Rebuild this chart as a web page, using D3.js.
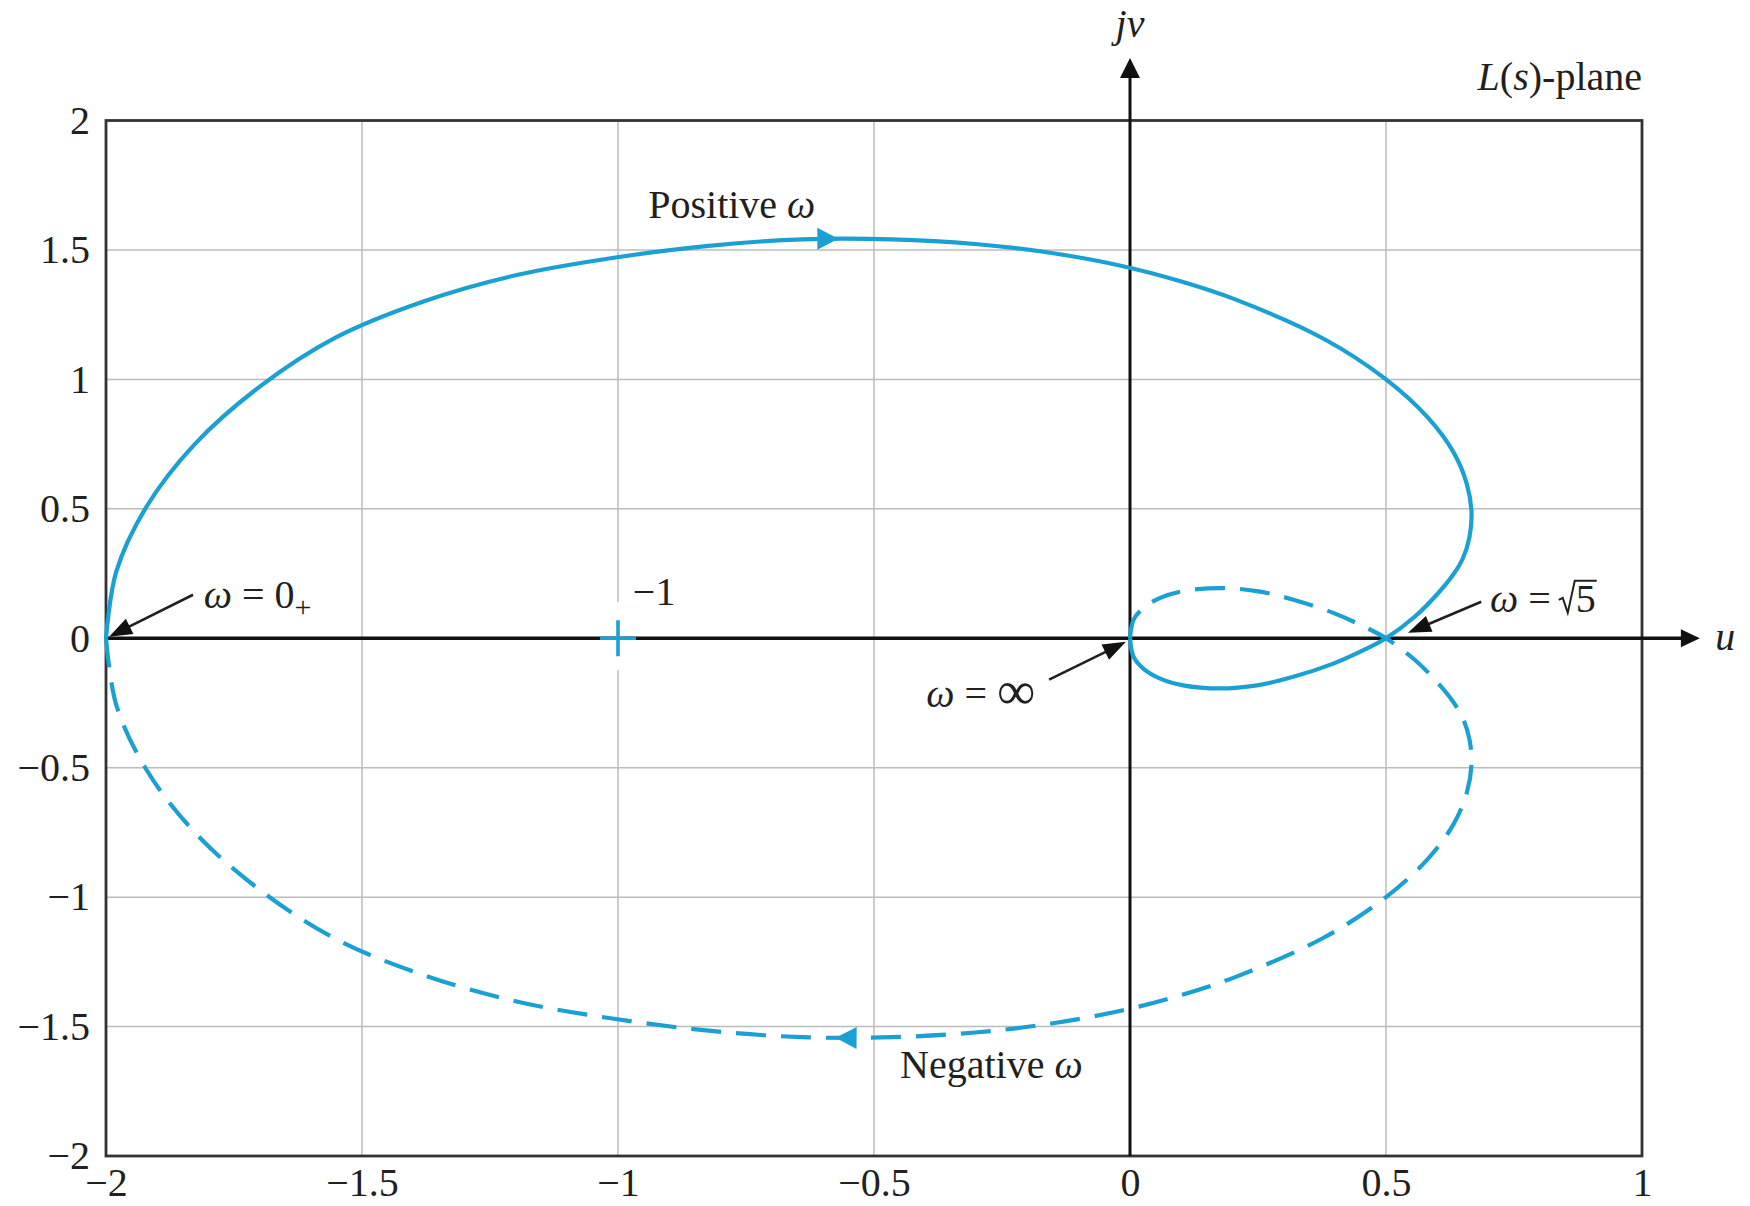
<!DOCTYPE html>
<html>
<head>
<meta charset="utf-8">
<script src="https://cdn.jsdelivr.net/npm/d3@7"></script>
<style>
  html, body { margin: 0; padding: 0; background: #fff; }
  svg { display: block; }
  text { font-family: "Liberation Serif", "Times New Roman", serif; fill: #231f20; }
</style>
</head>
<body>
<svg id="chart" width="1750" height="1206"></svg>
<script>
// ---- Axis ticks --------------------------------------------------------
const uTicks = [-2, -1.5, -1, -0.5, 0, 0.5, 1];
const uTickLabels = ["\u22122", "\u22121.5", "\u22121", "\u22120.5", "0", "0.5", "1"];
const vTicks = [2, 1.5, 1, 0.5, 0, -0.5, -1, -1.5, -2];
const vTickLabels = ["2", "1.5", "1", "0.5", "0", "\u22120.5", "\u22121", "\u22121.5", "\u22122"];

// ---- Polar plot of L(jw) ----------------------------------------------
// w from 0+ to +infinity (solid)
const posU = [-2.000, -1.980, -1.921, -1.827, -1.701, -1.550, -1.380, -1.198, -1.011, -0.823,
              -0.640, -0.466, -0.303, -0.153, -0.018, 0.102, 0.208, 0.379, 0.500, 0.581,
              0.632, 0.658, 0.667, 0.663, 0.650, 0.631, 0.600, 0.556, 0.500, 0.456,
              0.397, 0.319, 0.248, 0.176, 0.104, 0.059, 0.026, 0.007, 0.000];
const posV = [0.000, 0.257, 0.508, 0.749, 0.970, 1.163, 1.301, 1.403, 1.469, 1.516,
              1.541, 1.541, 1.523, 1.488, 1.439, 1.377, 1.307, 1.156, 1.000, 0.854,
              0.718, 0.595, 0.486, 0.391, 0.308, 0.245, 0.170, 0.083, 0.000, -0.046,
              -0.098, -0.149, -0.182, -0.194, -0.182, -0.156, -0.117, -0.072, 0.000];
// w from -infinity to 0- (dashed)
const negU = [0.000, 0.007, 0.026, 0.059, 0.104, 0.176, 0.248, 0.319, 0.397, 0.456,
              0.500, 0.556, 0.600, 0.631, 0.650, 0.663, 0.667, 0.658, 0.632, 0.581,
              0.500, 0.379, 0.208, 0.102, -0.018, -0.153, -0.303, -0.466, -0.640, -0.823,
              -1.011, -1.198, -1.380, -1.550, -1.701, -1.827, -1.921, -1.980, -2.000];
const negV = [0.000, 0.072, 0.117, 0.156, 0.182, 0.194, 0.182, 0.149, 0.098, 0.046,
              0.000, -0.083, -0.170, -0.245, -0.308, -0.391, -0.486, -0.595, -0.718, -0.854,
              -1.000, -1.156, -1.307, -1.377, -1.439, -1.488, -1.523, -1.541, -1.541, -1.516,
              -1.469, -1.403, -1.301, -1.163, -0.970, -0.749, -0.508, -0.257, 0.000];

// direction arrows on the two branches (u position)
const branchArrowU = [-0.57, -0.575];

// the -1 point
const criticalPoint = [-1, 0];

// leader arrows: [tail u, tail v] -> [tip u, tip v]
const leaderTails = [[-1.830, 0.168], [0.686, 0.141], [-0.158, -0.160]];
const leaderTips  = [[-1.994, 0.006], [0.543, 0.021], [-0.008, -0.014]];

// axis arrow extents
const uAxisEnd = 1.113;
const vAxisEnd = 2.241;

// ---- Layout ------------------------------------------------------------
const svg = d3.select("#chart");
const x = d3.scaleLinear().domain([-2, 1]).range([106, 1642]);
const y = d3.scaleLinear().domain([-2, 2]).range([1156, 120.5]);

const blue = "#1aa0d2";
const ink = "#231f20";
const FS = 40;

// grid
const grid = svg.append("g");
grid.selectAll("line.gu").data(uTicks.filter(d => d !== -2 && d !== 1 && d !== 0))
  .join("line")
  .attr("x1", d => x(d)).attr("x2", d => x(d))
  .attr("y1", y(2)).attr("y2", y(-2))
  .attr("stroke", "#bcbcbc").attr("stroke-width", 1.5);
grid.selectAll("line.gv").data(vTicks.filter(d => d !== -2 && d !== 2 && d !== 0))
  .join("line")
  .attr("x1", x(-2)).attr("x2", x(1))
  .attr("y1", d => y(d)).attr("y2", d => y(d))
  .attr("stroke", "#bcbcbc").attr("stroke-width", 1.5);

// frame
svg.append("rect")
  .attr("x", x(-2)).attr("y", y(2))
  .attr("width", x(1) - x(-2)).attr("height", y(-2) - y(2))
  .attr("fill", "none").attr("stroke", "#333").attr("stroke-width", 2.8);

// tick labels through d3 axes
const yAxis = d3.axisLeft(y).tickValues(vTicks).tickSize(0).tickPadding(16)
  .tickFormat((d, i) => vTickLabels[i]);
const gy = svg.append("g").attr("transform", `translate(${x(-2)},0)`).call(yAxis);
gy.select(".domain").remove();
gy.selectAll("text").attr("font-size", FS).attr("font-family", "Liberation Serif").attr("fill", ink);

const xAxis = d3.axisBottom(x).tickValues(uTicks).tickSize(0).tickPadding(12)
  .tickFormat((d, i) => uTickLabels[i]);
const gx = svg.append("g").attr("transform", `translate(0,${y(-2)})`).call(xAxis);
gx.select(".domain").remove();
gx.selectAll("text").attr("font-size", FS).attr("font-family", "Liberation Serif").attr("fill", ink);

// filled triangle pointing along angle (degrees) with tip at (px,py)
function arrowHead(g, px, py, angDeg, len, half, fill) {
  g.append("path")
    .attr("d", `M0,0 L${-len},${-half} L${-len},${half} Z`)
    .attr("transform", `translate(${px},${py}) rotate(${angDeg})`)
    .attr("fill", fill);
}

// coordinate axes
const axes = svg.append("g");
axes.append("line")
  .attr("x1", x(-2)).attr("x2", x(uAxisEnd) - 12)
  .attr("y1", y(0)).attr("y2", y(0))
  .attr("stroke", "#111").attr("stroke-width", 3.6);
arrowHead(axes, x(uAxisEnd), y(0), 0, 19, 9, "#111");
axes.append("line")
  .attr("x1", x(0)).attr("x2", x(0))
  .attr("y1", y(-2)).attr("y2", y(vAxisEnd) + 12)
  .attr("stroke", "#111").attr("stroke-width", 3);
arrowHead(axes, x(0), y(vAxisEnd), -90, 20, 10, "#111");

// the -1 point marker
const cp = svg.append("g");
cp.append("line")
  .attr("x1", x(criticalPoint[0])).attr("x2", x(criticalPoint[0]))
  .attr("y1", y(criticalPoint[1]) - 36).attr("y2", y(criticalPoint[1]) + 32)
  .attr("stroke", "#fff").attr("stroke-width", 4);
cp.append("line")
  .attr("x1", x(criticalPoint[0]) - 18).attr("x2", x(criticalPoint[0]) + 18)
  .attr("y1", y(criticalPoint[1])).attr("y2", y(criticalPoint[1]))
  .attr("stroke", blue).attr("stroke-width", 3.6);
cp.append("line")
  .attr("x1", x(criticalPoint[0])).attr("x2", x(criticalPoint[0]))
  .attr("y1", y(criticalPoint[1]) - 18).attr("y2", y(criticalPoint[1]) + 18)
  .attr("stroke", blue).attr("stroke-width", 3.6);

// curves
const line = d3.line().x(d => x(d[0])).y(d => y(d[1])).curve(d3.curveCatmullRom.alpha(0.5));
const posPts = posU.map((u, i) => [u, posV[i]]);
const negPts = negU.map((u, i) => [u, negV[i]]);

const curves = svg.append("g");
const posPath = curves.append("path").datum(posPts).attr("d", line)
  .attr("fill", "none").attr("stroke", blue).attr("stroke-width", 4.2)
  .attr("stroke-linejoin", "round");
const negPath = curves.append("path").datum(negPts).attr("d", line)
  .attr("fill", "none").attr("stroke", blue).attr("stroke-width", 4.2)
  .attr("stroke-dasharray", "30 15");

// direction arrows along the branches
function arrowOnPath(node, targetU, topHalf) {
  const L = node.getTotalLength();
  const tx = x(targetU), y0 = y(0);
  let best = null;
  for (let s = 0; s <= L; s += 0.5) {
    const p = node.getPointAtLength(s);
    if (topHalf ? p.y > y0 : p.y < y0) continue;
    const d = Math.abs(p.x - tx);
    if (!best || d < best.d) best = { d, s, p };
  }
  const a = node.getPointAtLength(Math.max(0, best.s - 4));
  const b = node.getPointAtLength(Math.min(L, best.s + 4));
  return { p: best.p, ang: Math.atan2(b.y - a.y, b.x - a.x) * 180 / Math.PI };
}
const aPos = arrowOnPath(posPath.node(), branchArrowU[0], true);
arrowHead(curves, aPos.p.x, aPos.p.y, aPos.ang, 21, 11, blue);
const aNeg = arrowOnPath(negPath.node(), branchArrowU[1], false);
arrowHead(curves, aNeg.p.x, aNeg.p.y, aNeg.ang, 21, 11, blue);

// leader arrows
const leaders = svg.append("g");
leaderTails.forEach((t, i) => {
  const tip = leaderTips[i];
  const x0 = x(t[0]), y0 = y(t[1]), x1 = x(tip[0]), y1 = y(tip[1]);
  const ang = Math.atan2(y1 - y0, x1 - x0);
  leaders.append("line")
    .attr("x1", x0).attr("y1", y0)
    .attr("x2", x1 - 18 * Math.cos(ang)).attr("y2", y1 - 18 * Math.sin(ang))
    .attr("stroke", ink).attr("stroke-width", 2.6);
  arrowHead(leaders, x1, y1, ang * 180 / Math.PI, 23, 8.5, "#111");
});

// ---- Labels ------------------------------------------------------------
const labels = svg.append("g").attr("font-size", FS);

// w = 0+
const t0 = labels.append("text").attr("x", x(-1.809)).attr("y", y(0.118));
t0.append("tspan").attr("font-style", "italic").text("\u03c9");
t0.append("tspan").text(" = 0");
t0.append("tspan").attr("font-size", 30).attr("dy", 9).text("+");

// -1
labels.append("text").attr("x", x(-0.971)).attr("y", y(0.129)).text("\u22121");

// w = sqrt 5 (radical drawn as a stroke over the 5)
const t5x = x(0.703), t5y = y(0.102);
const t5 = labels.append("text").attr("x", t5x).attr("y", t5y);
t5.append("tspan").attr("font-style", "italic").text("\u03c9");
t5.append("tspan").text(" =");
const w5 = t5.node().getComputedTextLength();
const rx = t5x + w5 + 8;
const five = labels.append("text").attr("x", rx + 17).attr("y", t5y).text("5");
const fw = five.node().getComputedTextLength();
labels.append("path")
  .attr("d", `M${rx},${t5y - 12} L${rx + 4},${t5y - 14} L${rx + 9},${t5y + 1} L${rx + 16},${t5y - 31} L${rx + 17 + fw + 1},${t5y - 31}`)
  .attr("fill", "none").attr("stroke", ink).attr("stroke-width", 2)
  .attr("stroke-linejoin", "miter");

// w = infinity
const ti = labels.append("text").attr("x", x(-0.398)).attr("y", y(-0.264));
ti.append("tspan").attr("font-style", "italic").text("\u03c9");
ti.append("tspan").text(" = ");
ti.append("tspan").attr("font-size", 54).attr("dy", 2).text("\u221e");

// branch names
const tp = labels.append("text").attr("x", x(-0.941)).attr("y", y(1.624));
tp.append("tspan").text("Positive ");
tp.append("tspan").attr("font-style", "italic").text("\u03c9");
const tn = labels.append("text").attr("x", x(-0.449)).attr("y", y(-1.697));
tn.append("tspan").text("Negative ");
tn.append("tspan").attr("font-style", "italic").text("\u03c9");

// plane name and axis names
const tl = labels.append("text").attr("x", x(1)).attr("y", y(2.118)).attr("text-anchor", "end");
tl.append("tspan").attr("font-style", "italic").text("L");
tl.append("tspan").text("(");
tl.append("tspan").attr("font-style", "italic").text("s");
tl.append("tspan").text(")-plane");

labels.append("text").attr("x", x(0)).attr("y", y(2.322)).attr("text-anchor", "middle")
  .attr("font-style", "italic").text("jv");
labels.append("text").attr("x", x(1.143)).attr("y", y(-0.044))
  .attr("font-style", "italic").text("u");
</script>
</body>
</html>
